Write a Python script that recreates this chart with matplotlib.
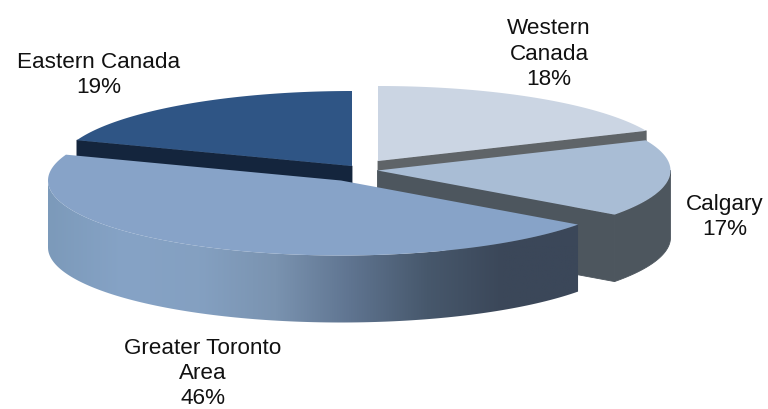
import numpy as np
from matplotlib import pyplot as plt
from matplotlib.colors import LinearSegmentedColormap
from matplotlib.patches import Polygon

plt.rcParams['font.family'] = ['Liberation Sans', 'DejaVu Sans']

# data
regions = ['Western\nCanada', 'Calgary', 'Greater Toronto\nArea', 'Eastern Canada']
shares = [18.4, 16.6, 45.6, 19.4]

# layout, in picture pixels
apexes = [(378, 161), (377.5, 170.5), (341, 180.5), (352, 166)]
label_pos = [(549, 54), (725, 217), (203, 373.5), (99, 75)]
radius_x = 293
radius_y = 75
depth = 67

top_colors = ['#cbd5e3', '#a9bdd5', '#87a3c8', '#2f5585']
cut_colors = ['#5f6468', '#4d565e', '#3b4759', '#14253d']
rim_color = '#4d565e'
toronto_rim = ['#7c9aba', '#86a3c6', '#84a0c1', '#7a93b0', '#5f7490', '#47586c', '#3b4759', '#3b4759']


def rim_points(apex, start, stop):
    angles = np.radians(np.linspace(start, stop, 120))
    return np.column_stack((apex[0] + radius_x * np.sin(angles), apex[1] - radius_y * np.cos(angles)))


def draw_slice(ax, i, start, stop, level):
    apex = apexes[i]
    # outer wall, only the part that faces the viewer
    a, b = max(start, 90), min(stop, 270)
    if a < b:
        upper = rim_points(apex, a, b)
        lower = upper[::-1] + [0, depth]
        wall = Polygon(np.vstack((upper, lower)), closed=True, facecolor=rim_color, edgecolor=rim_color,
                       linewidth=0.6, zorder=level)
        ax.add_patch(wall)
        if i == 2:
            wall.set_facecolor('none')
            wall.set_edgecolor('none')
            cmap = LinearSegmentedColormap.from_list('toronto', toronto_rim)
            x0, x1 = upper[:, 0].min(), upper[:, 0].max()
            grad = ax.imshow(np.linspace(0, 1, 256)[None, :], cmap=cmap, aspect='auto', zorder=level,
                             extent=(x0, x1, apex[1] + radius_y + depth + 1, apex[1] - 10))
            grad.set_clip_path(wall)

    # cut face along the slice's closing edge when it looks at the viewer
    for angle in (start, stop):
        if i in (0, 1) and angle == stop or i == 3 and angle == start:
            edge = rim_points(apex, angle, angle)[0]
            corners = [apex, edge, edge + [0, depth], np.array(apex) + [0, depth]]
            ax.add_patch(Polygon(corners, closed=True, facecolor=cut_colors[i], edgecolor=cut_colors[i],
                                 linewidth=0.6, zorder=level + 0.1))

    top = np.vstack(([apex], rim_points(apex, start, stop)))
    ax.add_patch(Polygon(top, closed=True, facecolor=top_colors[i], edgecolor='none', zorder=level + 0.2))


fig = plt.figure(figsize=(7.68, 4.09), dpi=100)
ax = fig.add_axes([0, 0, 1, 1])

stops = np.cumsum(shares) * 3.6
starts = np.concatenate(([0], stops[:-1]))

# back slices first so the exploded front slices cover them
for level, i in enumerate([3, 0, 1, 2]):
    draw_slice(ax, i, starts[i], stops[i], level + 1)

for i, (name, share) in enumerate(zip(regions, shares)):
    ax.text(label_pos[i][0], label_pos[i][1], f'{name}\n{share:.0f}%', ha='center', va='center',
            fontsize=16.2, color='#111111', linespacing=1.28, zorder=30)

ax.set_xlim(0, 768)
ax.set_ylim(409, 0)
ax.axis('off')
plt.savefig('out.png', dpi=100)
